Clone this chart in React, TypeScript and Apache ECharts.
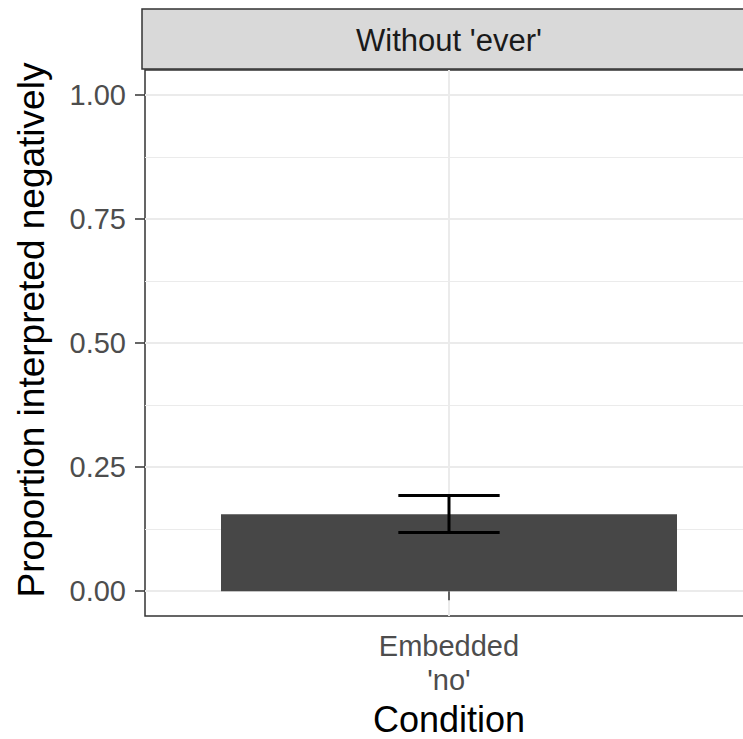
import React, { useEffect, useRef } from "react";
import * as echarts from "echarts";

const facetLabel = "Without 'ever'";
const categories = ["Embedded\n'no'"];
const categoryPositions = [1];
const proportions = [0.155];
const errorLow = [0.118];
const errorHigh = [0.193];
const yTickValues = [0, 0.25, 0.5, 0.75, 1.0];
const yMinorValues = [0.125, 0.375, 0.625, 0.875];
const yAxisTitle = "Proportion interpreted negatively";
const xAxisTitle = "Condition";

const FONT = "Liberation Sans, Arial, Helvetica, sans-serif";

export default function App() {
  const ref = useRef<HTMLDivElement>(null);
  useEffect(() => {
    if (!ref.current) return;
    const chart = echarts.init(ref.current, null, { renderer: "svg" });
    const gridLeft = 145;
    const gridTop = 70;
    const gridWidth = 608;
    const gridHeight = 546;
    const option: any = {
      animation: false,
      backgroundColor: "#ffffff",
      grid: {
        left: gridLeft,
        top: gridTop,
        width: gridWidth,
        height: gridHeight,
        show: true,
        borderColor: "#333333",
        borderWidth: 1.5,
        backgroundColor: "transparent",
        containLabel: false,
        outerBoundsMode: "none",
      },
      xAxis: {
        type: "value",
        min: 0.4,
        max: 1.6,
        axisLine: { show: false },
        axisTick: {
          show: true,
          length: 9,
          customValues: categoryPositions,
          lineStyle: { color: "#333333", width: 1.5 },
        },
        axisLabel: {
          customValues: categoryPositions,
          formatter: (v: number) => {
            const i = categoryPositions.indexOf(v);
            return i >= 0 ? categories[i] : "";
          },
          color: "#4d4d4d",
          fontSize: 29,
          fontFamily: FONT,
          lineHeight: 34,
          margin: 13,
        },
        splitLine: { show: true, lineStyle: { color: "#ebebeb", width: 2 } },
        name: xAxisTitle,
        nameLocation: "middle",
        nameGap: 85,
        nameTextStyle: { color: "#000000", fontSize: 36, fontFamily: FONT, lineHeight: 36 },
      },
      yAxis: [
        {
          type: "value",
          min: -0.05,
          max: 1.05,
          axisLine: { show: false },
          axisTick: {
            show: true,
            length: 10,
            customValues: yTickValues,
            lineStyle: { color: "#333333", width: 1.5 },
          },
          axisLabel: {
            customValues: yTickValues,
            formatter: (v: number) => v.toFixed(2),
            color: "#4d4d4d",
            fontSize: 29,
            fontFamily: FONT,
            margin: 19,
          },
          splitLine: { show: true, lineStyle: { color: "#ebebeb", width: 2 } },
          name: yAxisTitle,
          nameLocation: "middle",
          nameGap: 95,
          nameRotate: 90,
          nameTextStyle: {
            color: "#000000",
            fontSize: 37,
            fontFamily: FONT,
            padding: [0, 0, 0, 26],
          },
        },
        {
          type: "value",
          min: -0.05,
          max: 1.05,
          position: "left",
          axisLine: { show: false },
          axisTick: { show: false, customValues: yMinorValues },
          axisLabel: { show: false, customValues: yMinorValues },
          splitLine: { show: true, lineStyle: { color: "#ebebeb", width: 1.2 } },
        },
      ],
      graphic: [
        {
          type: "rect",
          shape: { x: 142, y: 9, width: 640, height: 60 },
          style: { fill: "#d9d9d9", stroke: "#333333", lineWidth: 1.5 },
          z: 10,
        },
        {
          type: "text",
          x: gridLeft + gridWidth / 2,
          y: 40,
          style: {
            text: facetLabel,
            fill: "#1a1a1a",
            fontSize: 31,
            fontFamily: FONT,
            align: "center",
            verticalAlign: "middle",
          },
          z: 11,
        },
      ],
      series: [
        {
          type: "bar",
          data: categoryPositions.map((x, i) => [x, proportions[i]]),
          barWidth: 456,
          itemStyle: { color: "#474747" },
          z: 2,
        },
        {
          type: "custom",
          data: categoryPositions.map((x, i) => [x, errorLow[i], errorHigh[i]]),
          z: 3,
          renderItem: (params: any, api: any) => {
            const x = api.value(0);
            const lo = api.value(1);
            const hi = api.value(2);
            const pLo = api.coord([x, lo]);
            const pHi = api.coord([x, hi]);
            const pLeft = api.coord([x - 0.1, lo]);
            const pRight = api.coord([x + 0.1, lo]);
            const style = { stroke: "#000000", lineWidth: 3 };
            return {
              type: "group",
              children: [
                { type: "line", shape: { x1: pLo[0], y1: pLo[1], x2: pHi[0], y2: pHi[1] }, style },
                { type: "line", shape: { x1: pLeft[0], y1: pLo[1], x2: pRight[0], y2: pLo[1] }, style },
                { type: "line", shape: { x1: pLeft[0], y1: pHi[1], x2: pRight[0], y2: pHi[1] }, style },
              ],
            };
          },
        },
      ],
    };
    chart.setOption(option);
    return () => chart.dispose();
  }, []);
  return (
    <div
      style={{
        position: "fixed",
        left: 0,
        top: 0,
        width: 743,
        height: 739,
        overflow: "hidden",
        background: "#fff",
      }}
    >
      <div ref={ref} style={{ width: 770, height: 739 }} />
    </div>
  );
}
